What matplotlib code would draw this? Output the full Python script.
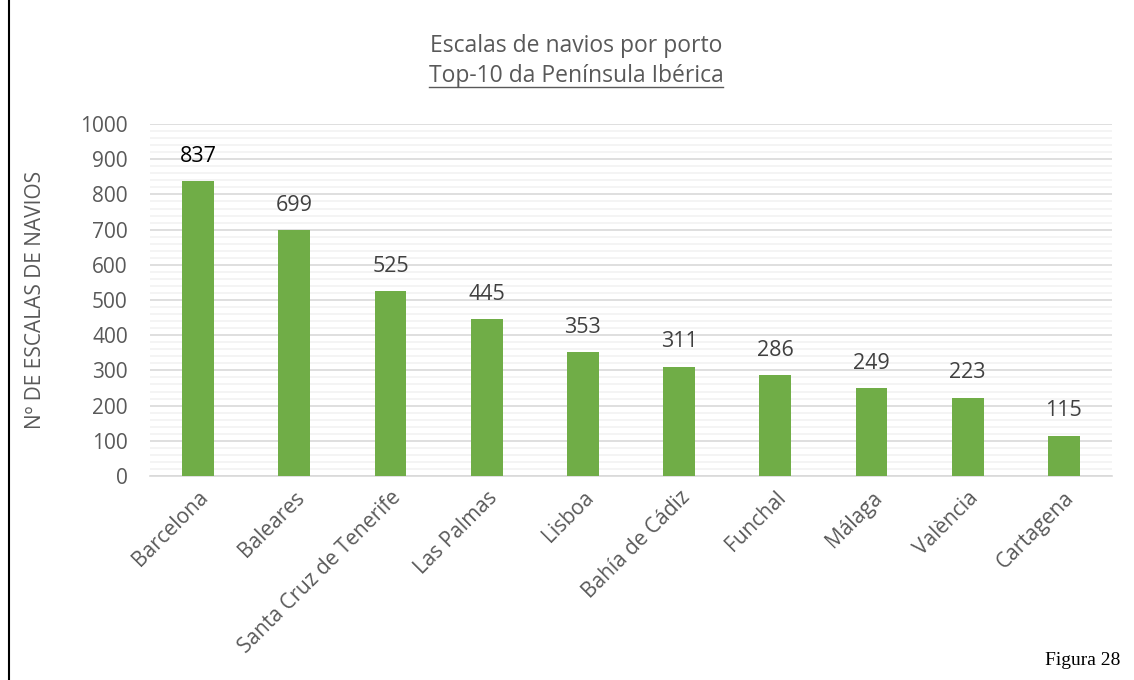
import matplotlib
matplotlib.use("Agg")
import matplotlib.pyplot as plt
from matplotlib.ticker import MultipleLocator
from matplotlib.lines import Line2D

ports = ["Barcelona", "Baleares", "Santa Cruz de Tenerife", "Las Palmas", "Lisboa",
         "Bahía de Cádiz", "Funchal", "Málaga", "València", "Cartagena"]
calls = [837, 699, 525, 445, 353, 311, 286, 249, 223, 115]

plt.rcParams['font.family'] = ['Open Sans', 'DejaVu Sans']
gray = "#595959"

fig = plt.figure(figsize=(11.34, 6.8), dpi=100)
ax = fig.add_axes([0.1323, 0.30, 0.8483, 0.5176])

x = range(len(ports))
ax.bar(x, calls, width=0.33, color="#70ad47", zorder=3)
ax.set_xlim(-0.5, len(ports) - 0.5)
ax.set_ylim(0, 1000)
ax.yaxis.set_major_locator(MultipleLocator(100))
ax.yaxis.set_minor_locator(MultipleLocator(20))
ax.grid(which="major", axis="y", color="#d9d9d9", linewidth=1.2, zorder=0)
ax.grid(which="minor", axis="y", color="#f2f2f2", linewidth=1.2, zorder=0)
for s in ["top", "right", "left"]:
    ax.spines[s].set_visible(False)
ax.spines["bottom"].set_color("#d9d9d9")
ax.spines["bottom"].set_linewidth(1.2)
ax.tick_params(axis="both", which="both", length=0, colors=gray, labelsize=15)
ax.tick_params(axis="y", pad=16)
ax.set_xticks(list(x))
ax.set_xticklabels(ports, rotation=45, ha="right", rotation_mode="anchor")
ax.tick_params(axis="x", pad=8)

for i, v in enumerate(calls):
    ax.text(i, v + 40, str(v), ha="center", va="bottom", fontsize=15.5,
            color="black" if i == 0 else "#404040")

ax.set_ylabel("Nº DE ESCALAS DE NAVIOS", fontsize=15, color=gray)
ax.yaxis.set_label_coords(-0.108, 0.50)

fig.text(0.508, 0.933, "Escalas de navios por porto", ha="center", va="center",
         fontsize=16.5, color=gray)
t2 = fig.text(0.508, 0.888, "Top-10 da Península Ibérica", ha="center", va="center",
              fontsize=16.5, color=gray)
fig.canvas.draw()
bb = t2.get_window_extent().transformed(fig.transFigure.inverted())
uy = bb.y0 + 0.002
fig.add_artist(Line2D([bb.x0, bb.x1], [uy, uy], transform=fig.transFigure,
                      color=gray, linewidth=1.0))

fig.add_artist(Line2D([0.0075, 0.0075], [0.0, 1.0], transform=fig.transFigure,
                      color="black", linewidth=1.5))
fig.text(0.988, 0.028, "Figura 28", ha="right", va="center", fontsize=14,
         family="Liberation Serif", color="black")

fig.savefig("out.png", dpi=100)
